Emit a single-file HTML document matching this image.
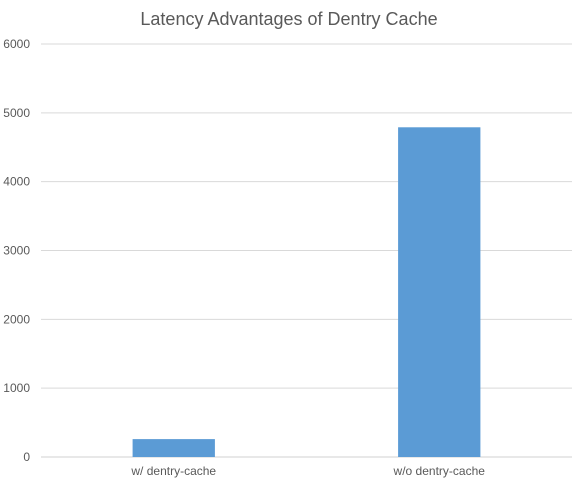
<!DOCTYPE html>
<html><head><meta charset="utf-8"><style>
body{margin:0;background:#fff;font-family:"Liberation Sans",sans-serif}
svg text{fill:#595959}
</style></head><body>
<svg id="chart" width="578" height="488" xmlns="http://www.w3.org/2000/svg">
<rect width="578" height="488" fill="#fff"/>
<text x="289" y="25" text-anchor="middle" font-size="18">Latency Advantages of Dentry Cache</text>
<g id="grid"></g><g id="bars"></g><g id="labels"></g>
</svg>
<script>
const categories=["w/ dentry-cache","w/o dentry-cache"];
const values=[260,4790];
const ticks=[0,1000,2000,3000,4000,5000,6000];
const x0=41,x1=572,y0=457,y1=44,ymax=6000;
const ns="http://www.w3.org/2000/svg";
function y(v){return y0-(v/ymax)*(y0-y1);}
const band=(x1-x0)/categories.length;
function xc(i){return x0+band*(i+0.5);}
const grid=document.getElementById('grid'),bars=document.getElementById('bars'),labels=document.getElementById('labels');
ticks.forEach(t=>{
 const l=document.createElementNS(ns,'line');
 
 
 l.setAttribute('x1',x0);l.setAttribute('x2',x1);l.setAttribute('y1',y(t));l.setAttribute('y2',y(t));
 l.setAttribute('stroke',t===0?'#d0d0d0':'#d9d9d9');l.setAttribute('stroke-width','1');
 grid.appendChild(l);
 const tx=document.createElementNS(ns,'text');
 
 
 tx.setAttribute('x',30);tx.setAttribute('y',y(t)+4);tx.setAttribute('text-anchor','end');tx.setAttribute('font-size','12');
 tx.textContent=t;labels.appendChild(tx);
});
const bw=band*0.31;
categories.forEach((c,i)=>{
 const r=document.createElementNS(ns,'rect');
 
 
 r.setAttribute('x',xc(i)-bw/2);r.setAttribute('width',bw);
 r.setAttribute('y',y(values[i]));r.setAttribute('height',y0-y(values[i]));
 r.setAttribute('fill','#5b9bd5');bars.appendChild(r);
 const tx=document.createElementNS(ns,'text');
 
 
 tx.setAttribute('x',xc(i));tx.setAttribute('y',475);tx.setAttribute('text-anchor','middle');tx.setAttribute('font-size','12');
 tx.textContent=c;labels.appendChild(tx);
});
</script>
</body></html>
